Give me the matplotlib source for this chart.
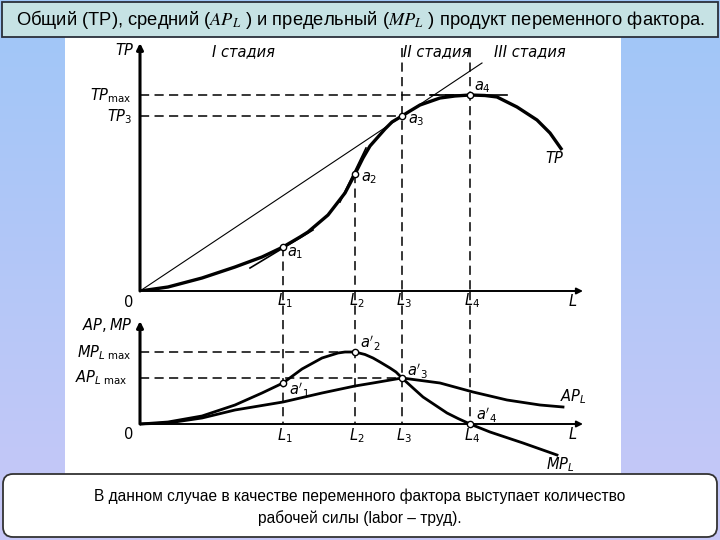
import matplotlib
matplotlib.use('Agg')
import matplotlib.pyplot as plt
from matplotlib.patches import Rectangle, FancyBboxPatch
from matplotlib.colors import LinearSegmentedColormap
import numpy as np

# значения L1..L4 на оси L
L = [14.3, 21.5, 26.2, 33.0]
L_names = ['$L_1$', '$L_2$', '$L_3$', '$L_4$']

# общий продукт TP
tp_x = [0, 2.8, 6.2, 9.5, 12.2, 14.3, 16.0, 16.8, 18.8, 20.5, 21.5, 22.3, 23.0, 24.5,
        25.2, 26.2, 27.0, 28.0, 30.0, 31.5, 33.0, 34.5, 35.7, 37.7, 39.7, 41.0, 42.2]
tp_y = [0, 0.4, 1.3, 2.4, 3.4, 4.4, 5.4, 5.9, 7.6, 9.8, 11.7, 13.3, 14.5, 16.2,
        16.9, 17.5, 18.0, 18.6, 19.3, 19.5, 19.6, 19.55, 19.4, 18.4, 17.1, 15.8, 14.1]
tp_at_L = [4.4, 11.7, 17.5, 19.6]

# средний продукт AP_L
ap_x = [0, 2.8, 6.2, 9.5, 14.3, 18.2, 21.5, 23.3, 26.2, 30.0, 33.3, 36.7, 40.0, 42.3]
ap_y = [0, 0.1, 0.6, 1.4, 2.2, 3.1, 3.8, 4.1, 4.6, 4.1, 3.2, 2.4, 1.9, 1.7]

# предельный продукт MP_L
mp_x = [0, 2.8, 6.2, 9.5, 12.2, 14.3, 16.2, 18.2, 19.8, 20.5, 21.5, 22.5, 23.3, 24.0,
        25.0, 25.6, 26.2, 27.3, 28.3, 29.5, 30.7, 31.8, 33.0, 35.0, 38.3, 41.7]
mp_y = [0, 0.2, 0.8, 1.9, 3.1, 4.1, 5.5, 6.6, 7.1, 7.2, 7.2, 6.95, 6.6, 6.2,
        5.6, 5.2, 4.6, 3.6, 2.7, 1.9, 1.1, 0.55, 0.0, -0.8, -1.9, -3.1]
apmp_at_L = [4.1, 7.2, 4.6, 0.0]

# луч из начала координат и касательные
ray_x, ray_y = [0, 34.2], [0, 22.8]
tan1_x, tan1_y = [11.0, 17.3], [2.3, 6.1]
tan2_x, tan2_y = [20.0, 22.6], [8.9, 14.3]
tan4_x, tan4_y = [29.0, 36.7], [19.6, 19.6]

stages = ['I стадия', 'II стадия', 'III стадия']
stage_x = [10.3, 29.7, 39.0]

title = 'Общий (TP), средний ($AP_L$ ) и предельный ($MP_L$ ) продукт переменного фактора.'
note = ('В данном случае в качестве переменного фактора выступает количество\n'
        'рабочей силы (labor – труд).')

narrow = ['Liberation Sans Narrow', 'Liberation Sans', 'DejaVu Sans']

fig = plt.figure(figsize=(7.2, 5.4), dpi=100)

# фон слайда
bg = fig.add_axes([0, 0, 1, 1])
bg.set_xlim(0, 720)
bg.set_ylim(540, 0)
bg.axis('off')
grad = np.linspace(0, 1, 256).reshape(-1, 1)
cmap = LinearSegmentedColormap.from_list('bg', ['#9fc6f7', '#c8c8f8'])
bg.imshow(grad, cmap=cmap, extent=[0, 720, 540, 0], aspect='auto')
bg.add_patch(Rectangle((65, 37), 556, 438, fc='white', ec='none'))
bg.add_patch(Rectangle((2, 2), 716, 35, fc='#c6e2e4', ec='#2a2f3a', lw=1.3))
bg.add_patch(FancyBboxPatch((3, 474), 714, 63, boxstyle='round,pad=0,rounding_size=10',
                            fc='white', ec='#333333', lw=1.3))
bg.text(360, 19.5, title, ha='center', va='center', fontsize=13.2, family=narrow,
        math_fontfamily='stix')
bg.text(360, 507, note, ha='center', va='center', fontsize=11.2, family=narrow,
        linespacing=1.45)

lab = dict(fontsize=10.5, fontstyle='italic', family='DejaVu Sans')
dash = dict(color='k', lw=1.1, ls=(0, (6, 3.5)))
arrow = dict(arrowstyle='-|>', color='k', mutation_scale=9, shrinkA=0, shrinkB=0)

# ---- верхний график: TP ----
ax1 = fig.add_axes([140 / 720, 249 / 540, 445 / 720, 251 / 540])
ax1.set_xlim(0, 44.5)
ax1.set_ylim(0, 25.1)
ax1.axis('off')

ax1.annotate('', xy=(0, 24.8), xytext=(0, 0), arrowprops=dict(arrow, lw=2.2),
             annotation_clip=False)
ax1.annotate('', xy=(44.3, 0), xytext=(0, 0), arrowprops=dict(arrow, lw=1.4),
             annotation_clip=False)

ax1.plot(ray_x, ray_y, color='k', lw=0.8)
ax1.plot(tan1_x, tan1_y, color='k', lw=1.2)
ax1.plot(tan2_x, tan2_y, color='k', lw=1.2)
ax1.plot(tan4_x, tan4_y, color='k', lw=1.2)
ax1.plot(tp_x, tp_y, color='k', lw=2.4, solid_capstyle='butt', solid_joinstyle='round')

ax1.plot([0, L[3]], [tp_at_L[3]] * 2, **dash)
ax1.plot([0, L[2]], [tp_at_L[2]] * 2, **dash)
ax1.plot([L[0], L[0]], [tp_at_L[0], 0], **dash)
ax1.plot([L[1], L[1]], [tp_at_L[1], 0], **dash)
ax1.plot([L[2], L[2]], [24.3, 0], **dash)
ax1.plot([L[3], L[3]], [24.3, 0], **dash)
ax1.plot(L, tp_at_L, 'o', ms=4.5, mfc='white', mec='k', mew=1.0, zorder=5)

ax1.text(-1.5, 24.1, '$TP$', ha='center', va='center', **lab)
ax1.text(-0.8, 19.5, r'$TP_{\mathrm{max}}$', ha='right', va='center', **lab)
ax1.text(-0.8, 17.4, '$TP_3$', ha='right', va='center', **lab)
ax1.text(-1.2, -1.1, '$0$', ha='center', va='center', **lab)
for x, name in zip(L, L_names):
    ax1.text(x + 0.2, -1.0, name, ha='center', va='center', **lab)
ax1.text(43.3, -1.0, '$L$', ha='center', va='center', **lab)
for i, (x, y) in enumerate(zip(L, tp_at_L)):
    dx, dy = [(0.4, -0.6), (0.6, -0.4), (0.6, -0.4), (0.4, 0.8)][i]
    ax1.text(x + dx, y + dy, '$a_%d$' % (i + 1), ha='left', va='center', **lab)
ax1.text(41.5, 13.3, '$TP$', ha='center', va='center', **lab)
for x, s in zip(stage_x, stages):
    ax1.text(x, 23.9, s, ha='center', va='center', **lab)

# ---- нижний график: AP и MP ----
ax2 = fig.add_axes([140 / 720, 61 / 540, 445 / 720, 188 / 540])
ax2.set_xlim(0, 44.5)
ax2.set_ylim(-5.5, 13.3)
ax2.axis('off')

ax2.annotate('', xy=(0, 10.3), xytext=(0, 0), arrowprops=dict(arrow, lw=2.2),
             annotation_clip=False)
ax2.annotate('', xy=(44.3, 0), xytext=(0, 0), arrowprops=dict(arrow, lw=1.4),
             annotation_clip=False)

ax2.plot(ap_x, ap_y, color='k', lw=2.0, solid_joinstyle='round')
ax2.plot(mp_x, mp_y, color='k', lw=2.0, solid_joinstyle='round')

ax2.plot([0, L[1]], [apmp_at_L[1]] * 2, **dash)
ax2.plot([0, L[2]], [apmp_at_L[2]] * 2, **dash)
for x in L:
    ax2.plot([x, x], [13.3, 0], **dash)
ax2.plot(L, apmp_at_L, 'o', ms=4.5, mfc='white', mec='k', mew=1.0, zorder=5)

ax2.text(-0.7, 9.9, '$AP, MP$', ha='right', va='center', **lab)
ax2.text(-0.9, 7.1, r'$MP_{L\ \mathrm{max}}$', ha='right', va='center', **lab)
ax2.text(-1.2, 4.6, r'$AP_{L\ \mathrm{max}}$', ha='right', va='center', **lab)
ax2.text(-1.2, -1.0, '$0$', ha='center', va='center', **lab)
for x, name in zip(L, L_names):
    ax2.text(x + 0.2, -1.2, name, ha='center', va='center', **lab)
ax2.text(43.3, -1.0, '$L$', ha='center', va='center', **lab)
for i, (x, y) in enumerate(zip(L, apmp_at_L)):
    dx, dy = [(0.6, -0.7), (0.5, 0.9), (0.5, 0.7), (0.6, 0.9)][i]
    ax2.text(x + dx, y + dy, "$a'_%d$" % (i + 1), ha='left', va='center', **lab)
ax2.text(43.3, 2.7, '$AP_L$', ha='center', va='center', **lab)
ax2.text(42.0, -4.1, '$MP_L$', ha='center', va='center', **lab)

fig.savefig('out.png', dpi=100)
